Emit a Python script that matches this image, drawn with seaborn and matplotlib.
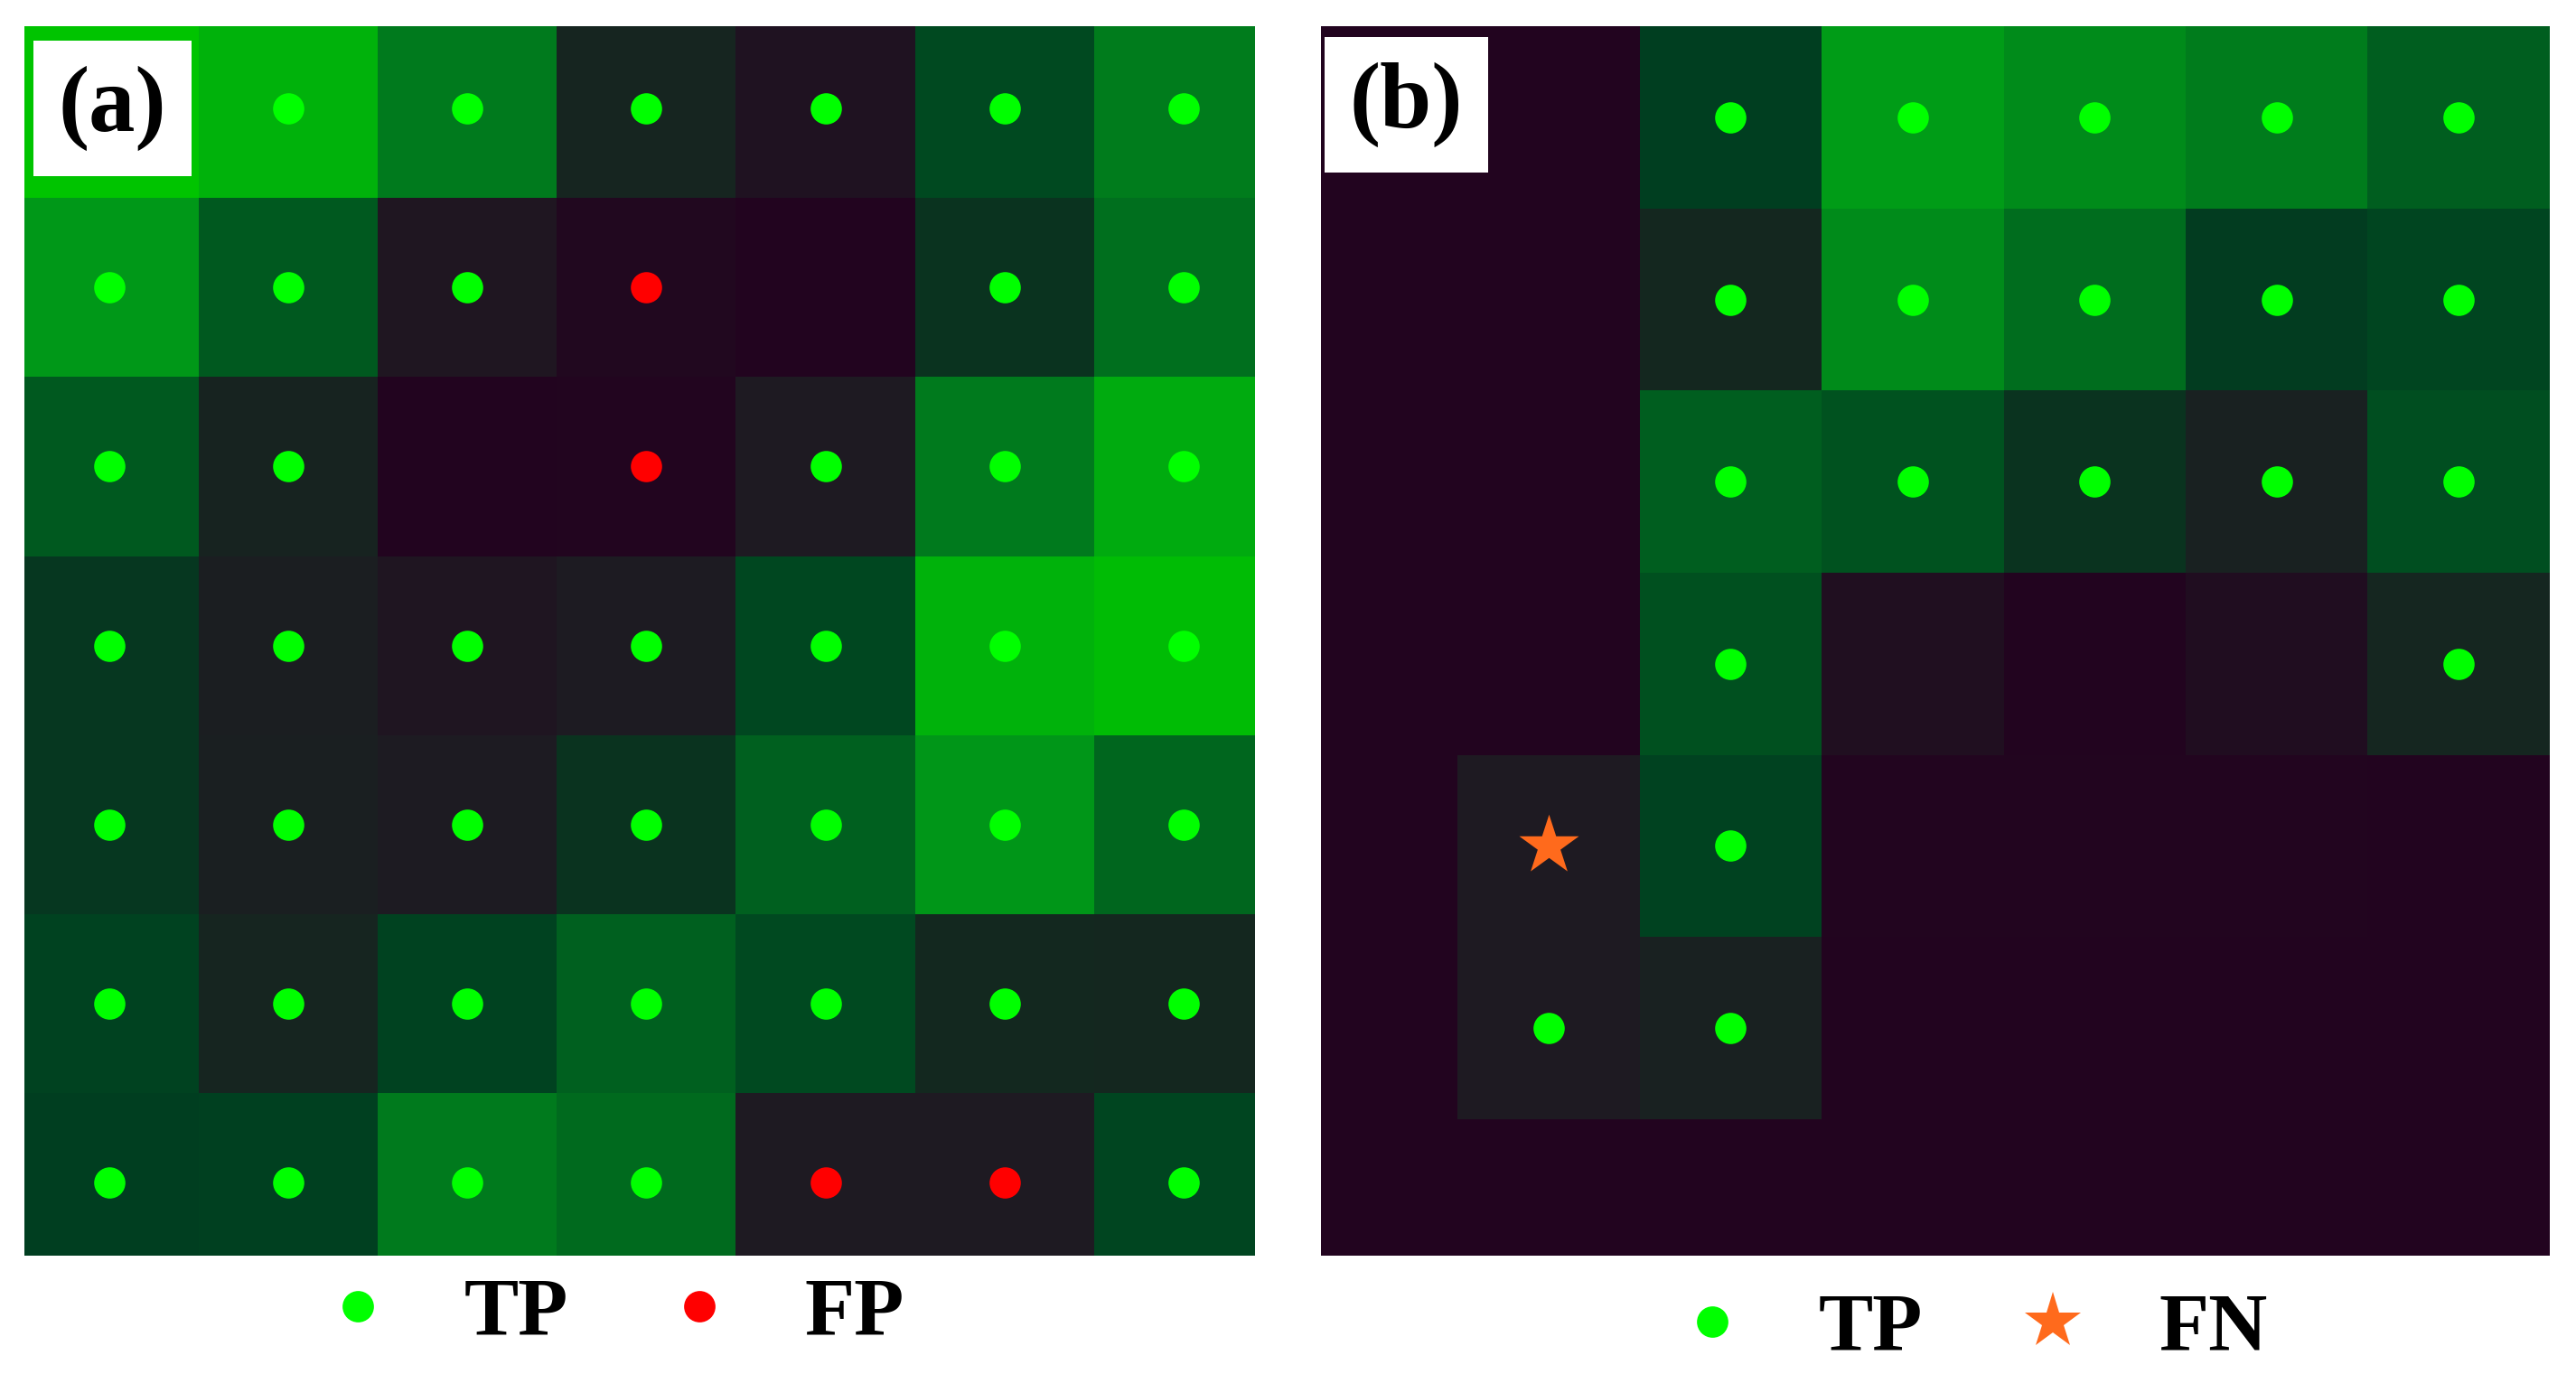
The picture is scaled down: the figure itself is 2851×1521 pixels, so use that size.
"""
Two 7x7 detection maps, cell colour = response strength,
marker = detection result (TP / FP / FN).
"""

###
#Import libraries

import numpy as np
import seaborn as sns
import matplotlib
matplotlib.use('Agg')
import matplotlib.pyplot as plt
from matplotlib.colors import LinearSegmentedColormap
from matplotlib.lines import Line2D

sns.set_style('white')
plt.rcParams['font.family'] = ['Liberation Serif', 'DejaVu Serif']
plt.rcParams['text.color'] = 'black'

###
#Data

#Panel (a) cell intensity, 0 = dark purple, 1 = bright green
VALUES_A = [
    [1.00, 0.90, 0.62, 0.22, 0.08, 0.40, 0.63],
    [0.76, 0.47, 0.10, 0.02, 0.00, 0.30, 0.57],
    [0.47, 0.20, 0.00, 0.01, 0.12, 0.62, 0.86],
    [0.32, 0.16, 0.09, 0.13, 0.39, 0.90, 0.95],
    [0.32, 0.17, 0.13, 0.30, 0.50, 0.75, 0.53],
    [0.37, 0.22, 0.37, 0.50, 0.40, 0.25, 0.24],
    [0.35, 0.36, 0.62, 0.55, 0.12, 0.12, 0.38],
]

MARKS_A = [
    ['', 'TP', 'TP', 'TP', 'TP', 'TP', 'TP'],
    ['TP', 'TP', 'TP', 'FP', '', 'TP', 'TP'],
    ['TP', 'TP', '', 'FP', 'TP', 'TP', 'TP'],
    ['TP', 'TP', 'TP', 'TP', 'TP', 'TP', 'TP'],
    ['TP', 'TP', 'TP', 'TP', 'TP', 'TP', 'TP'],
    ['TP', 'TP', 'TP', 'TP', 'TP', 'TP', 'TP'],
    ['TP', 'TP', 'TP', 'TP', 'FP', 'FP', 'TP'],
]

#Panel (b)
VALUES_B = [
    [0.00, 0.00, 0.35, 0.78, 0.70, 0.63, 0.49],
    [0.00, 0.00, 0.24, 0.70, 0.56, 0.34, 0.38],
    [0.00, 0.00, 0.49, 0.44, 0.30, 0.18, 0.42],
    [0.00, 0.00, 0.43, 0.06, 0.00, 0.05, 0.23],
    [0.00, 0.12, 0.37, 0.01, 0.01, 0.01, 0.00],
    [0.00, 0.12, 0.18, 0.00, 0.00, 0.00, 0.00],
    [0.00, 0.00, 0.00, 0.00, 0.00, 0.00, 0.00],
]

MARKS_B = [
    ['', '', 'TP', 'TP', 'TP', 'TP', 'TP'],
    ['', '', 'TP', 'TP', 'TP', 'TP', 'TP'],
    ['', '', 'TP', 'TP', 'TP', 'TP', 'TP'],
    ['', '', 'TP', '', '', '', 'TP'],
    ['', 'FN', 'TP', '', '', '', ''],
    ['', 'TP', 'TP', '', '', '', ''],
    ['', '', '', '', '', '', ''],
]

PANEL_LABELS = ['(a)', '(b)']
LEGEND_A = ['TP', 'FP']
LEGEND_B = ['TP', 'FN']

###
#Styles

CMAP = LinearSegmentedColormap.from_list('purple_green', [
    (0.00, '#22041f'),
    (0.12, '#1e1a22'),
    (0.25, '#13281f'),
    (0.35, '#003e20'),
    (0.50, '#00601f'),
    (0.65, '#00801c'),
    (0.80, '#00a016'),
    (1.00, '#00c400'),
])

MARKER_STYLE = {
    'TP': dict(marker='o', color='#00ff00', s=620),
    'FP': dict(marker='o', color='#ff0000', s=620),
    'FN': dict(marker='*', color='#ff6a1c', s=2500),
}

LEGEND_SIZE = {'o': 25, '*': 47}


def draw_panel(ax, values, marks, label, label_xy, xlim, ylim):
    """Heatmap plus the detection markers on top."""
    sns.heatmap(np.array(values), ax=ax, cmap=CMAP, vmin=0, vmax=1,
                cbar=False, xticklabels=False, yticklabels=False)
    for kind, style in MARKER_STYLE.items():
        pts = [(c + 0.5, r + 0.5) for r, row in enumerate(marks)
               for c, m in enumerate(row) if m == kind]
        if pts:
            xs, ys = zip(*pts)
            ax.scatter(xs, ys, linewidths=0, zorder=3, **style)
    ax.set_xlim(*xlim)
    ax.set_ylim(*ylim)
    ax.text(label_xy[0], label_xy[1], label, fontsize=74, fontweight='bold',
            color='black', ha='center', va='center', zorder=4,
            bbox=dict(facecolor='white', edgecolor='none',
                      boxstyle='square,pad=0.27'))


def add_legend(fig, names, center):
    """Marker legend under a panel."""
    handles = []
    for name in names:
        st = MARKER_STYLE[name]
        handles.append(Line2D([], [], linestyle='none', marker=st['marker'],
                              color=st['color'], markeredgewidth=0,
                              markersize=LEGEND_SIZE[st['marker']]))
    leg = fig.legend(handles, names, loc='center', bbox_to_anchor=center,
                     ncol=len(names), frameon=False, handlelength=1.0,
                     handletextpad=0.8, columnspacing=1.1,
                     prop=dict(family='Liberation Serif', weight='bold',
                               size=65))
    for t in leg.get_texts():
        t.set_color('black')


def main():
    fig = plt.figure(figsize=(28.51, 15.21), dpi=100)
    ax_a = fig.add_axes([0.0096, 0.0860, 0.4777, 0.8949])
    ax_b = fig.add_axes([0.5128, 0.0860, 0.4770, 0.8949])

    draw_panel(ax_a, VALUES_A, MARKS_A, PANEL_LABELS[0], (0.52, 0.50),
               (0.03, 6.90), (6.91, 0.04))
    draw_panel(ax_b, VALUES_B, MARKS_B, PANEL_LABELS[1], (0.72, 0.43),
               (0.25, 7.0), (6.75, 0.0))

    add_legend(fig, LEGEND_A, (0.2372, 0.043))
    add_legend(fig, LEGEND_B, (0.7647, 0.032))

    fig.savefig('out.png', dpi=100, facecolor='white')


if __name__ == '__main__':
    main()
